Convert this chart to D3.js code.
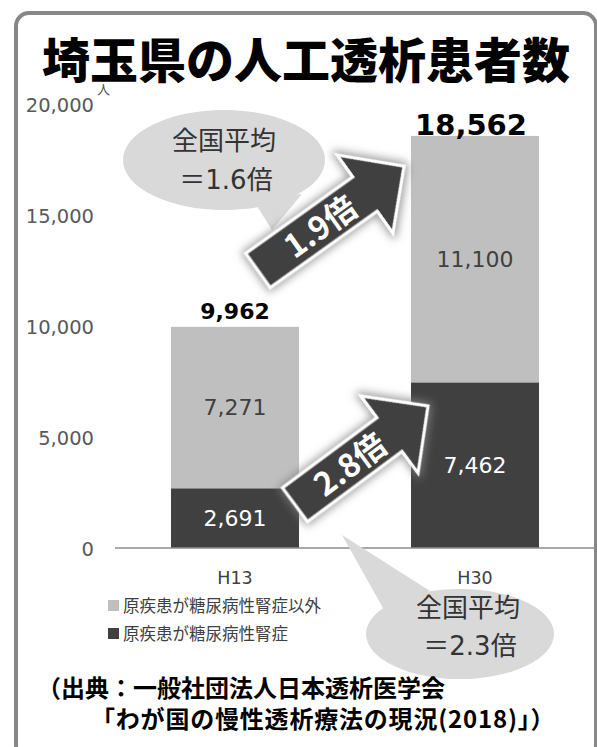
<!DOCTYPE html>
<html lang="ja">
<head>
<meta charset="utf-8">
<script src="https://cdn.jsdelivr.net/npm/d3@7"></script>
<style>
  html, body { margin: 0; padding: 0; background: #fff; }
  svg { display: block; }
</style>
</head>
<body>
<svg id="chart" width="597" height="747"></svg>
<script>
// 埼玉県の人工透析患者数 (H13 / H30)
const categories = ["H13", "H30"];
const diabeticValues = [2691, 7462];     // 原疾患が糖尿病性腎症
const otherValues = [7271, 11100];       // 原疾患が糖尿病性腎症以外
const totalValues = [9962, 18562];
const yTickValues = [0, 5000, 10000, 15000, 20000];
const seriesNames = ["原疾患が糖尿病性腎症以外", "原疾患が糖尿病性腎症"];
const growthLabels = ["1.9倍", "2.8倍"];
const nationalLabels = ["＝1.6倍", "＝2.3倍"];

const JP = "'Noto Sans CJK JP', 'Noto Sans', sans-serif";
const NUM = "'DejaVu Sans', 'Noto Sans CJK JP', sans-serif";
const LIGHT = "#bfbfbf", DARK = "#404040";

const svg = d3.select("#chart");
const defs = svg.append("defs");

// soft grey halo behind the arrows
const glow = defs.append("filter").attr("id", "glow")
  .attr("x", "-30%").attr("y", "-30%").attr("width", "160%").attr("height", "160%");
glow.append("feMorphology").attr("in", "SourceAlpha").attr("operator", "dilate").attr("radius", 2).attr("result", "dil");
glow.append("feGaussianBlur").attr("in", "dil").attr("stdDeviation", 4).attr("result", "blur");
glow.append("feFlood").attr("flood-color", "#7f7f7f").attr("flood-opacity", 0.75);
glow.append("feComposite").attr("in2", "blur").attr("operator", "in").attr("result", "shadow");
const gm = glow.append("feMerge");
gm.append("feMergeNode").attr("in", "shadow");
gm.append("feMergeNode").attr("in", "SourceGraphic");

// frame
svg.append("rect")
  .attr("x", 16).attr("y", 13).attr("width", 580).attr("height", 745)
  .attr("rx", 13).attr("fill", "#fff")
  .attr("stroke", "#878787").attr("stroke-width", 4);

// title
svg.append("text")
  .attr("x", 306).attr("y", 78)
  .attr("text-anchor", "middle")
  .attr("font-family", JP).attr("font-weight", 900)
  .attr("font-size", 48).attr("fill", "#000")
  .text("埼玉県の人工透析患者数");

// scales
const x = d3.scaleBand().domain(categories).range([115, 595])
  .paddingInner(0.4667).paddingOuter(0.2333);
const y = d3.scaleLinear().domain([0, 20000]).range([548, 104]);
const bw = x.bandwidth();
const cx = c => x(c) + bw / 2;

// y axis labels
const yAxis = d3.axisLeft(y).tickValues(yTickValues)
  .tickFormat(d3.format(",")).tickSize(0).tickPadding(0);
const yg = svg.append("g").attr("transform", "translate(94,0)").call(yAxis);
yg.select(".domain").remove();
yg.selectAll("text")
  .attr("font-family", NUM).attr("font-size", 19.5).attr("fill", "#595959")
  .attr("dy", "0.36em");
svg.append("text").attr("x", 97).attr("y", 94)
  .attr("font-family", JP).attr("font-size", 13).attr("fill", "#595959")
  .text("人");

// speech bubble with text lines
function bubble(ex, ey, rx, ry, tail, lines, fs) {
  const g = svg.append("g");
  g.append("path").attr("d", d3.line()(tail) + "Z").attr("fill", "#d9d9d9");
  g.append("ellipse").attr("cx", ex).attr("cy", ey).attr("rx", rx).attr("ry", ry).attr("fill", "#d9d9d9");
  lines.forEach(l => {
    g.append("text").attr("x", l.x).attr("y", l.y)
      .attr("text-anchor", "middle").attr("dy", "0.35em")
      .attr("font-family", l.num ? NUM : JP).attr("font-size", fs).attr("fill", "#333")
      .text(l.t);
  });
}
bubble(224, 160, 101, 50, [[252, 198], [302, 194], [272, 230]],
  [{ t: "全国平均", x: 224, y: 141 }, { t: nationalLabels[0], x: 226, y: 180, num: true }], 26);

// stacked bars
const stacks = d3.stack().keys(["diabetic", "other"])(
  categories.map((c, i) => ({ cat: c, diabetic: diabeticValues[i], other: otherValues[i] }))
);
const fills = { diabetic: DARK, other: LIGHT };
const labelFill = { diabetic: "#fff", other: "#404040" };
stacks.forEach(layer => {
  svg.append("g").selectAll("rect").data(layer).join("rect")
    .attr("x", d => x(d.data.cat)).attr("width", bw)
    .attr("y", d => y(d[1])).attr("height", d => y(d[0]) - y(d[1]))
    .attr("fill", fills[layer.key]);
  svg.append("g").selectAll("text").data(layer).join("text")
    .attr("x", d => cx(d.data.cat)).attr("y", d => (y(d[0]) + y(d[1])) / 2)
    .attr("dy", "0.36em").attr("text-anchor", "middle")
    .attr("font-family", NUM).attr("font-size", 22).attr("fill", labelFill[layer.key])
    .text(d => d3.format(",")(d[1] - d[0]));
});

// totals above bars
svg.append("g").selectAll("text").data(categories).join("text")
  .attr("x", (c, i) => cx(c) + (i ? -4 : 0))
  .attr("y", (c, i) => y(totalValues[i]) - (i ? 1 : 8))
  .attr("text-anchor", "middle")
  .attr("font-family", NUM).attr("font-weight", "bold")
  .attr("font-size", (c, i) => i ? 29 : 22).attr("fill", "#000")
  .text((c, i) => d3.format(",")(totalValues[i]));

// baseline
svg.append("line").attr("x1", 115).attr("x2", 595)
  .attr("y1", y(0)).attr("y2", y(0))
  .attr("stroke", "#8c8c8c").attr("stroke-width", 1.5);

// growth arrows, anchored in band/value space
function arrow(from, to, label) {
  const p0 = [x(from[0]) + from[1], y(from[2])];
  const p1 = [x(to[0]) + to[1], y(to[2])];
  const dx = p1[0] - p0[0], dy = p1[1] - p0[1];
  const L = Math.hypot(dx, dy), ang = Math.atan2(dy, dx) * 180 / Math.PI;
  const s = 21, h = 48, hl = 48;
  const pts = [[0, -s], [L - hl, -s], [L - hl, -h], [L, 0], [L - hl, h], [L - hl, s], [0, s]];
  const g = svg.append("g").attr("transform", `translate(${p0[0]},${p0[1]}) rotate(${ang})`);
  g.append("path").attr("d", d3.line()(pts) + "Z")
    .attr("fill", DARK).attr("stroke", "#fff").attr("stroke-width", 3)
    .attr("stroke-linejoin", "miter").attr("filter", "url(#glow)");
  g.append("text").attr("x", (L - hl) * 0.58).attr("y", 1)
    .attr("dy", "0.35em").attr("text-anchor", "middle")
    .attr("font-family", JP).attr("font-weight", "bold")
    .attr("font-size", 32).attr("fill", "#fff")
    .text(label);
}
arrow(["H13", 87, 12500], ["H30", -7, 17200], growthLabels[0]);

// bubble: 全国平均 ＝2.3倍
bubble(460, 634, 94, 45, [[342, 535], [383, 608], [430, 591]],
  [{ t: "全国平均", x: 468, y: 608 }, { t: nationalLabels[1], x: 470, y: 646, num: true }], 26);

arrow(["H13", 124, 1950], ["H30", 17, 6400], growthLabels[1]);

// category labels
svg.append("g").selectAll("text").data(categories).join("text")
  .attr("x", c => cx(c)).attr("y", 584)
  .attr("text-anchor", "middle")
  .attr("font-family", NUM).attr("font-size", 17.5).attr("fill", "#404040")
  .text(c => c);

// legend
const legend = svg.append("g");
[LIGHT, DARK].forEach((c, i) => {
  legend.append("rect").attr("x", 108).attr("y", 600 + i * 28).attr("width", 11).attr("height", 11).attr("fill", c);
  legend.append("text").attr("x", 123).attr("y", 606 + i * 28).attr("dy", "0.36em")
    .attr("font-family", JP).attr("font-size", 16.5).attr("fill", "#404040")
    .text(seriesNames[i]);
});

// source
svg.append("text").attr("x", 37).attr("y", 697)
  .attr("font-family", JP).attr("font-weight", "bold").attr("font-size", 24).attr("fill", "#000")
  .text("（出典：一般社団法人日本透析医学会");
svg.append("text").attr("x", 91).attr("y", 728)
  .attr("font-family", JP).attr("font-weight", "bold").attr("font-size", 24)
  .attr("letter-spacing", 0.8).attr("fill", "#000")
  .text("「わが国の慢性透析療法の現況(2018)」）");
</script>
</body>
</html>
